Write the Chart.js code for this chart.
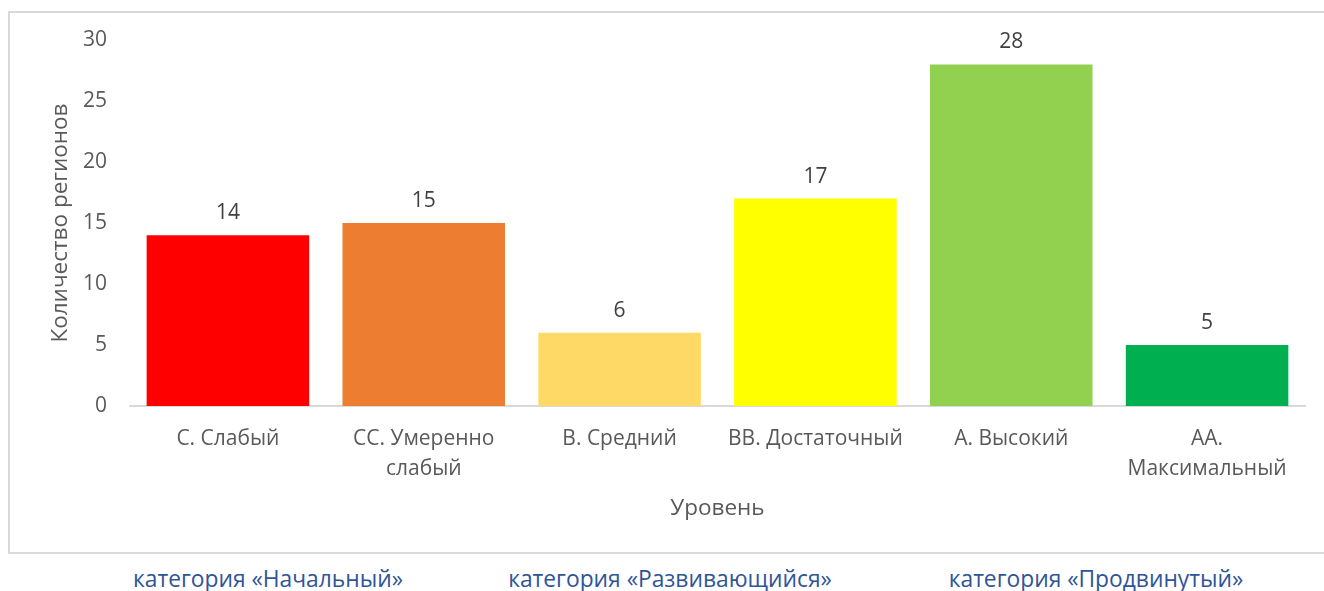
<!DOCTYPE html>
<html>
<head>
<meta charset="utf-8">
<script src="https://cdn.jsdelivr.net/npm/chart.js@4.4.0/dist/chart.umd.min.js"></script>
<style>
  html, body { margin: 0; padding: 0; background: #fff; width: 1324px; height: 591px; overflow: hidden; }
  #box { position: absolute; left: 8px; top: 11px; width: 1330px; height: 539px;
         border-left: 2px solid #d9d9d9; border-top: 2px solid #d9d9d9; border-bottom: 2px solid #d9d9d9; }
  #c { position: absolute; left: 0; top: 0; }
  .cat { position: absolute; top: 564px; font-family: "Open Sans", sans-serif; font-size: 22.8px; line-height: 30px;
         color: #2F5597; white-space: nowrap; transform: translateX(-50%); }
</style>
</head>
<body>
<div id="box"><canvas id="c" width="1314" height="539"></canvas></div>
<div class="cat" style="left:268px">категория «Начальный»</div>
<div class="cat" style="left:670px">категория «Развивающийся»</div>
<div class="cat" style="left:1096px">категория «Продвинутый»</div>
<script>
const categories = [["С. Слабый"], ["СС. Умеренно", "слабый"], ["В. Средний"], ["ВВ. Достаточный"], ["А. Высокий"], ["АА.", "Максимальный"]];
const counts = [14, 15, 6, 17, 28, 5];
const barColors = ["#FF0000", "#ED7D31", "#FFD966", "#FFFF00", "#92D050", "#00B050"];
const yTicks = [0, 5, 10, 15, 20, 25, 30];
const FONT = '"Open Sans", sans-serif';

const valueLabels = {
  id: 'valueLabels',
  afterDatasetsDraw(chart) {
    const ctx = chart.ctx;
    const meta = chart.getDatasetMeta(0);
    ctx.save();
    ctx.font = '21px ' + FONT;
    ctx.fillStyle = '#404040';
    ctx.textAlign = 'center';
    ctx.textBaseline = 'middle';
    meta.data.forEach((bar, i) => {
      ctx.fillText(String(counts[i]), bar.x, bar.y - 22);
    });
    ctx.restore();
  }
};

new Chart(document.getElementById('c'), {
  type: 'bar',
  data: {
    labels: categories,
    datasets: [{ data: counts, backgroundColor: barColors, borderWidth: 0,
                 categoryPercentage: 1.0, barPercentage: 0.83 }]
  },
  options: {
    responsive: false,
    animation: false,
    layout: { padding: { left: 0, right: 19, top: 27, bottom: 0 } },
    plugins: { legend: { display: false }, tooltip: { enabled: false } },
    scales: {
      x: {
        grid: { display: false, drawTicks: false },
        border: { display: true, color: '#d9d9d9', width: 2 },
        ticks: { color: '#595959', font: { family: FONT, size: 21, lineHeight: 1.43 }, padding: 18, maxRotation: 0, autoSkip: false },
        title: { display: true, text: 'Уровень', color: '#595959', font: { family: FONT, size: 22.5 }, padding: { top: 0, bottom: 30 } },
        afterFit(s) { s.height = 146; s.paddingLeft = 0; s.paddingRight = 0; }
      },
      y: {
        min: 0, max: 30,
        grid: { display: false, drawTicks: false },
        border: { display: false },
        afterBuildTicks(s) { s.ticks = yTicks.map(v => ({ value: v })); },
        ticks: { color: '#595959', font: { family: FONT, size: 21 }, padding: 23 },
        title: { display: true, text: 'Количество регионов', color: '#595959', font: { family: FONT, size: 22.5 }, padding: { top: 37, bottom: 0 } },
        afterFit(s) { s.width = 120; s.paddingTop = 0; s.paddingBottom = 0; }
      }
    }
  },
  plugins: [valueLabels]
});
</script>
</body>
</html>
